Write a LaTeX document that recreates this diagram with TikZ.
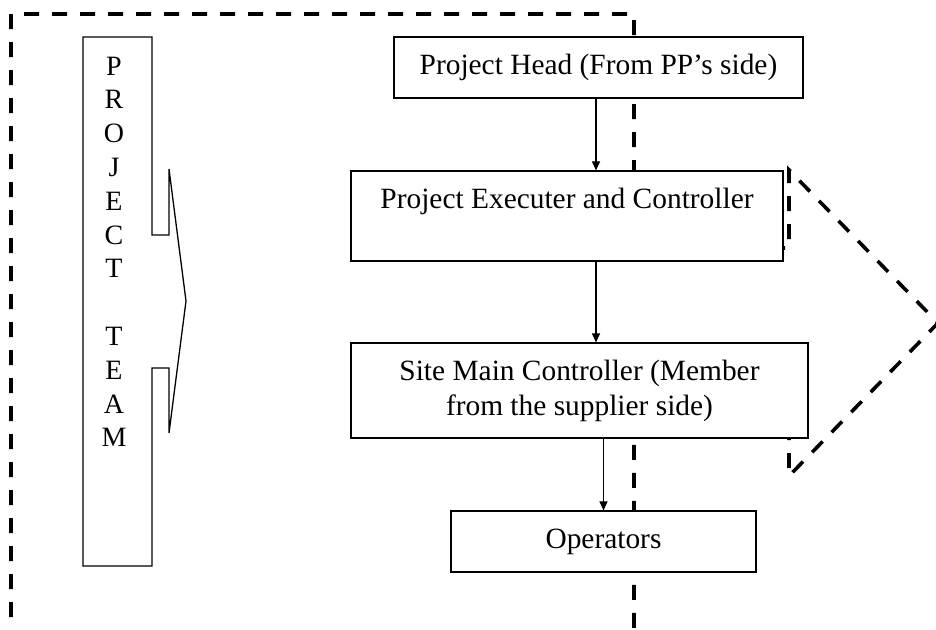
\documentclass[tikz,border=0pt]{standalone}
\usepackage{fontspec}
\setmainfont{Liberation Serif}
\usetikzlibrary{arrows.meta, positioning}

\newcommand\boxfont{\fontsize{29.4}{35}\selectfont}
\newcommand\teamfont{\fontsize{28}{33.8}\selectfont}

\tikzset{
    unit/.style={rectangle, draw, fill=white, line width=1.2pt, inner sep=0pt, align=center, font=\boxfont},
    flow/.style={-{Triangle[length=9pt,width=8pt]}, line width=1.1pt},
    bound/.style={line width=3.6pt, dash pattern=on 15pt off 13pt},
    letter/.style={anchor=base, inner sep=0pt, font=\teamfont}
}

\begin{document}
\begin{tikzpicture}[x=1pt, y=-1pt]
    \useasboundingbox (0,0) rectangle (936,629);

    % 虚线边界
    \draw[bound] (11,617) -- (11,14) -- (634,14) -- (634,248) -- (789,248) -- (789,170)
        -- (938,323) -- (789,476) -- (789,436) -- (634,436) -- (634,629);

    % 左边的项目组框
    \draw[line width=1.3pt] (83,37) -- (152,37) -- (152,235) -- (169,235) -- (169,169)
        -- (186,301) -- (169,433) -- (169,368) -- (152,368) -- (152,566) -- (83,566) -- cycle;
    \foreach \k/\c in {0/P,1/R,2/O,3/J,4/E,5/C,6/T,8/T,9/E,10/A,11/M} {
        \node[letter] (l\k) at (114,75+33.8*\k) {\c};
    }

    % 右边的层级
    \node[unit, minimum width=409pt, minimum height=61pt] (head) at (598.5,67.5) {Project Head (From PP’s side)};
    \node[unit, minimum width=432pt, minimum height=90pt] (exec) at (567,216) {Project Executer and Controller\\~};
    \node[unit, minimum width=457pt, minimum height=95pt] (site) at (579.5,390.5) {Site Main Controller (Member\\from the supplier side)};
    \node[unit, minimum width=305pt, minimum height=61pt] (ops) at (603.5,541.5) {Operators};

    % 箭头
    \draw[flow] (head.south -| 596,0) -- (exec.north -| 596,0);
    \draw[flow] (exec.south -| 596,0) -- (site.north -| 596,0);
    \draw[flow] (site.south -| ops.north) -- (ops.north);
\end{tikzpicture}
\end{document}
